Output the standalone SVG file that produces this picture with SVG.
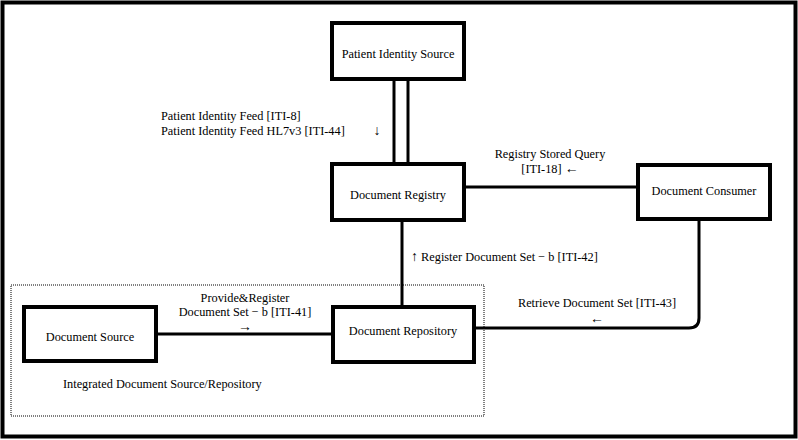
<svg xmlns="http://www.w3.org/2000/svg" width="798" height="440" viewBox="0 0 798 440">
<style>
.node{fill:#fff;stroke:#000;stroke-width:4}
.conn{fill:none;stroke:#000;stroke-width:3}
text{font-family:"Liberation Serif","Times New Roman",serif;font-size:12.3px;fill:#000}
.c{text-anchor:middle}
.a{font-size:14px}
</style>
<rect x="0" y="0" width="798" height="440" fill="#fff"/>
<rect x="2.5" y="2.5" width="793" height="434" fill="none" stroke="#000" stroke-width="4"/>
<g id="group-integrated">
<rect x="11" y="285" width="473" height="131" fill="none" stroke="#000" stroke-width="1" stroke-dasharray="1,1"/>
<text x="63" y="388">Integrated Document Source/Repository</text>
</g>
<g id="connectors">
<line class="conn" x1="394" y1="79" x2="394" y2="164"/>
<line class="conn" x1="408" y1="79" x2="408" y2="164"/>
<line class="conn" x1="465" y1="187" x2="637" y2="187"/>
<line class="conn" x1="402" y1="220" x2="402" y2="307"/>
<path class="conn" d="M699 220 V318 Q699 328 689 328 H475"/>
<line class="conn" x1="157" y1="334" x2="332" y2="334"/>
<text x="161" y="120">Patient Identity Feed [ITI-8]</text>
<text x="161" y="135">Patient Identity Feed HL7v3 [ITI-44]</text>
<text x="377" y="135" class="c a">↓</text>
<text x="550" y="158" class="c">Registry Stored Query</text>
<text x="550" y="173" class="c">[ITI-18] <tspan class="a">←</tspan></text>
<text x="411" y="261"><tspan class="a">↑</tspan> Register Document Set − b [ITI-42]</text>
<text x="597" y="307" class="c">Retrieve Document Set [ITI-43]</text>
<text x="597" y="323" class="c a">←</text>
<text x="245" y="302" class="c">Provide&amp;Register</text>
<text x="245" y="316" class="c">Document Set − b [ITI-41]</text>
<text x="245" y="331" class="c a">→</text>
</g>
<g id="patient-identity-source">
<rect class="node" x="332" y="23" width="132" height="56"/>
<text x="398" y="58" class="c">Patient Identity Source</text>
</g>
<g id="document-registry">
<rect class="node" x="332" y="164" width="132" height="56"/>
<text x="398" y="199" class="c">Document Registry</text>
</g>
<g id="document-consumer">
<rect class="node" x="638" y="165" width="132" height="54"/>
<text x="704" y="195" class="c">Document Consumer</text>
</g>
<g id="document-source">
<rect class="node" x="24" y="307" width="132" height="54"/>
<text x="90" y="341" class="c">Document Source</text>
</g>
<g id="document-repository">
<rect class="node" x="333" y="307" width="141" height="55"/>
<text x="403" y="335" class="c">Document Repository</text>
</g>
</svg>
